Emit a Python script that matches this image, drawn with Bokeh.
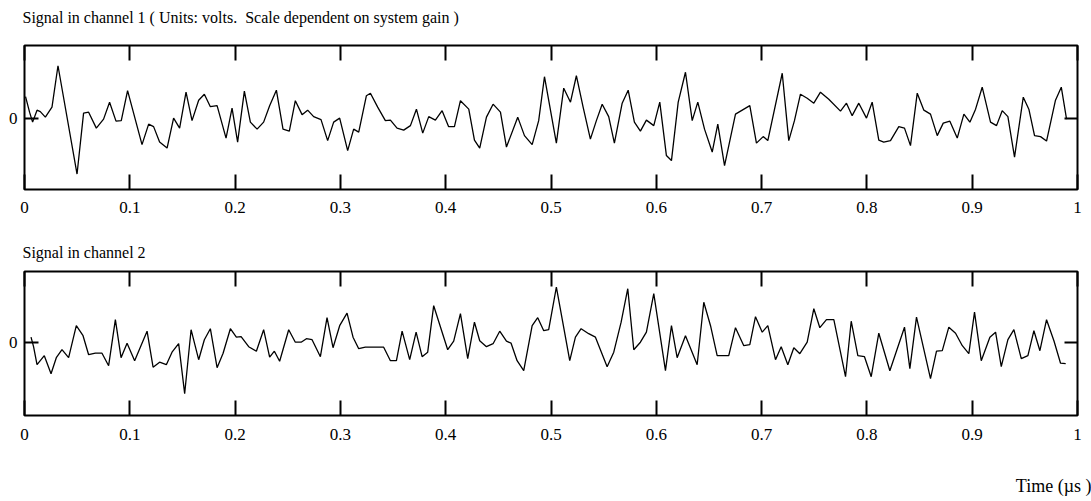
from bokeh.plotting import figure
from bokeh.models import LinearAxis, FixedTicker, Range1d, Title
from bokeh.layouts import column
from bokeh.embed import file_html
from bokeh.resources import INLINE

FONT = "Liberation Serif"

# time axis ticks (µs)
tick_values = [0, 0.1, 0.2, 0.3, 0.4, 0.5, 0.6, 0.7, 0.8, 0.9, 1]
tick_labels = ["0", "0.1", "0.2", "0.3", "0.4", "0.5", "0.6", "0.7", "0.8", "0.9", "1"]

# channel 1 samples: time (µs) and signal (V)
t1 = [0.0010, 0.0048, 0.0077, 0.0119, 0.0150, 0.0198, 0.0261, 0.0318, 0.0499, 0.0561,
      0.0609, 0.0682, 0.0751, 0.0808, 0.0869, 0.0919, 0.0979, 0.1116, 0.1179, 0.1226,
      0.1283, 0.1354, 0.1416, 0.1473, 0.1534, 0.1591, 0.1654, 0.1708, 0.1765, 0.1829,
      0.1914, 0.1971, 0.2024, 0.2088, 0.2145, 0.2209, 0.2271, 0.2328, 0.2392, 0.2455,
      0.2515, 0.2572, 0.2636, 0.2689, 0.2746, 0.2816, 0.2879, 0.2936, 0.2993, 0.3069,
      0.3126, 0.3174, 0.3247, 0.3285, 0.3354, 0.3427, 0.3475, 0.3538, 0.3601, 0.3665,
      0.3722, 0.3782, 0.3839, 0.3902, 0.3966, 0.4028, 0.4083, 0.4140, 0.4219, 0.4273,
      0.4323, 0.4387, 0.4450, 0.4520, 0.4577, 0.4684, 0.4748, 0.4821, 0.4883, 0.4938,
      0.5051, 0.5121, 0.5185, 0.5241, 0.5305, 0.5374, 0.5431, 0.5486, 0.5548, 0.5602,
      0.5676, 0.5733, 0.5792, 0.5849, 0.5906, 0.5976, 0.6033, 0.6096, 0.6144, 0.6208,
      0.6277, 0.6341, 0.6394, 0.6458, 0.6531, 0.6584, 0.6648, 0.6752, 0.6888, 0.6951,
      0.7015, 0.7059, 0.7196, 0.7258, 0.7312, 0.7369, 0.7433, 0.7496, 0.7559, 0.7638,
      0.7749, 0.7806, 0.7860, 0.7923, 0.7996, 0.8050, 0.8113, 0.8160, 0.8224, 0.8303,
      0.8357, 0.8414, 0.8478, 0.8541, 0.8604, 0.8668, 0.8725, 0.8788, 0.8858, 0.8921,
      0.8978, 0.9032, 0.9095, 0.9174, 0.9231, 0.9285, 0.9339, 0.9402, 0.9485, 0.9538,
      0.9592, 0.9649, 0.9706, 0.9791, 0.9846, 0.9896]
v1 = [0.43, 0.12, -0.08, 0.16, 0.13, 0.02, 0.22, 1.05, -1.12, 0.10,
      0.12, -0.20, -0.02, 0.32, -0.06, -0.05, 0.55, -0.53, -0.12, -0.17,
      -0.48, -0.60, 0.00, -0.20, 0.52, -0.05, 0.36, 0.48, 0.23, 0.25,
      -0.40, 0.20, -0.48, 0.54, -0.08, -0.22, -0.08, 0.25, 0.56, -0.22,
      -0.26, 0.35, 0.07, 0.16, 0.03, -0.03, -0.45, -0.08, 0.00, -0.65,
      -0.22, -0.28, 0.45, 0.50, 0.22, -0.05, -0.04, -0.20, -0.24, -0.15,
      0.18, -0.30, 0.03, -0.04, 0.15, -0.17, -0.17, 0.35, 0.18, -0.44,
      -0.60, 0.02, 0.28, 0.12, -0.58, 0.02, -0.35, -0.53, -0.05, 0.83,
      -0.50, 0.60, 0.32, 0.85, 0.22, -0.42, -0.05, 0.28, 0.03, -0.50,
      0.30, 0.56, -0.08, -0.26, -0.04, -0.15, 0.32, -0.75, -0.85, 0.32,
      0.92, -0.05, 0.32, -0.22, -0.68, -0.12, -0.95, 0.08, 0.25, -0.50,
      -0.37, -0.45, 0.90, -0.45, -0.05, 0.48, 0.40, 0.30, 0.52, 0.38,
      0.14, 0.30, 0.05, 0.30, 0.00, 0.32, -0.44, -0.48, -0.45, -0.17,
      -0.20, -0.55, 0.50, 0.16, 0.08, -0.35, -0.10, -0.06, -0.40, 0.08,
      -0.08, 0.18, 0.62, -0.08, -0.15, 0.15, 0.03, -0.78, 0.42, 0.18,
      -0.35, -0.37, -0.46, 0.36, 0.62, -0.02]

# channel 2 samples: time (µs) and signal (V)
t2 = [0.0062, 0.0086, 0.0119, 0.0188, 0.0252, 0.0302, 0.0356, 0.0419, 0.0492, 0.0556,
      0.0609, 0.0673, 0.0736, 0.0799, 0.0863, 0.0917, 0.0974, 0.1046, 0.1164, 0.1221,
      0.1283, 0.1347, 0.1401, 0.1464, 0.1521, 0.1582, 0.1654, 0.1708, 0.1765, 0.1829,
      0.1886, 0.1955, 0.2012, 0.2057, 0.2129, 0.2202, 0.2271, 0.2328, 0.2373, 0.2423,
      0.2509, 0.2572, 0.2627, 0.2677, 0.2731, 0.2810, 0.2873, 0.2930, 0.2993, 0.3063,
      0.3120, 0.3174, 0.3237, 0.3411, 0.3475, 0.3532, 0.3586, 0.3658, 0.3719, 0.3776,
      0.3829, 0.3886, 0.4019, 0.4076, 0.4140, 0.4209, 0.4273, 0.4323, 0.4387, 0.4450,
      0.4513, 0.4577, 0.4621, 0.4678, 0.4741, 0.4821, 0.4874, 0.4931, 0.4978, 0.5051,
      0.5178, 0.5232, 0.5286, 0.5358, 0.5422, 0.5533, 0.5596, 0.5666, 0.5729, 0.5786,
      0.5849, 0.5906, 0.5976, 0.6087, 0.6144, 0.6198, 0.6277, 0.6388, 0.6451, 0.6515,
      0.6578, 0.6688, 0.6752, 0.6831, 0.6888, 0.6942, 0.7006, 0.7059, 0.7132, 0.7186,
      0.7249, 0.7306, 0.7363, 0.7433, 0.7496, 0.7553, 0.7616, 0.7686, 0.7797, 0.7851,
      0.7914, 0.7977, 0.8041, 0.8113, 0.8218, 0.8357, 0.8408, 0.8471, 0.8604, 0.8661,
      0.8716, 0.8778, 0.8842, 0.8906, 0.8968, 0.9022, 0.9086, 0.9168, 0.9222, 0.9276,
      0.9339, 0.9396, 0.9466, 0.9529, 0.9586, 0.9643, 0.9706, 0.9776, 0.9839, 0.9888]
v2 = [0.10, -0.09, -0.45, -0.27, -0.63, -0.31, -0.15, -0.31, 0.33, 0.13,
      -0.25, -0.22, -0.22, -0.47, 0.45, -0.31, -0.02, -0.37, 0.22, -0.50,
      -0.40, -0.45, -0.20, -0.03, -1.03, 0.25, -0.35, 0.05, 0.27, -0.51,
      -0.22, 0.27, 0.10, 0.11, -0.09, -0.18, 0.25, -0.30, -0.18, -0.38,
      0.25, 0.00, 0.00, 0.07, 0.05, -0.29, 0.49, -0.11, 0.33, 0.58,
      0.10, -0.13, -0.10, -0.10, -0.37, -0.37, 0.22, -0.35, 0.20, -0.29,
      -0.20, 0.73, -0.15, 0.02, 0.57, -0.33, 0.40, 0.03, -0.09, -0.03,
      0.22, 0.02, -0.02, -0.37, -0.57, 0.33, 0.49, 0.23, 0.25, 1.10,
      -0.37, 0.10, 0.27, 0.17, 0.10, -0.49, -0.20, 0.40, 1.07, -0.15,
      0.00, 0.20, 0.97, -0.57, 0.33, -0.31, 0.13, -0.45, 0.80, 0.33,
      -0.27, -0.27, 0.29, -0.07, -0.05, 0.51, 0.20, 0.33, -0.35, -0.09,
      -0.45, -0.11, -0.23, 0.00, 0.67, 0.29, 0.45, 0.45, -0.69, 0.42,
      -0.27, -0.29, -0.69, 0.18, -0.57, 0.30, -0.53, 0.50, -0.73, -0.18,
      -0.17, 0.30, 0.18, -0.07, -0.23, 0.60, -0.37, 0.10, 0.20, -0.49,
      0.05, 0.25, -0.33, -0.27, 0.23, -0.17, 0.45, 0.03, -0.42, -0.43]


def style_axis(axis, ticks, tick_len, show_labels, standoff):
    axis.ticker = FixedTicker(ticks=ticks)
    axis.axis_line_color = None
    axis.major_tick_in = tick_len
    axis.major_tick_out = 0
    axis.major_tick_line_width = 2
    axis.major_tick_line_color = "black"
    axis.minor_tick_line_color = None
    axis.major_label_standoff = standoff
    axis.major_label_text_font = FONT
    if show_labels:
        axis.major_label_text_color = "black"
        axis.major_label_text_font_size = "17px"
    else:
        # tick marks only, labels not painted
        axis.major_label_text_color = None
        axis.major_label_text_font_size = "1px"


def gap_axis(size):
    # invisible axis whose outward tick length reserves blank space
    axis = LinearAxis()
    style_axis(axis, [0.5], 0, False, 0)
    axis.major_tick_out = size
    axis.major_tick_line_color = None
    return axis


def make_title(text, size, align, offset):
    return Title(text=text, align=align, offset=offset, standoff=0,
                 text_font=FONT, text_font_size=size, text_font_style="normal",
                 text_color="black")


def make_panel(t, v, y_lo, y_hi, height, top, bottom, title, title_gap, label_standoff):
    p = figure(width=1091, height=height,
               x_range=Range1d(0, 1), y_range=Range1d(y_lo, y_hi),
               output_backend="svg", toolbar_location=None,
               x_axis_location=None, y_axis_location=None,
               min_border_left=24, min_border_right=14,
               min_border_top=top, min_border_bottom=bottom)
    p.grid.visible = False
    p.outline_line_color = "black"
    p.outline_line_width = 2
    p.background_fill_color = "white"
    p.border_fill_color = "white"

    below = LinearAxis()
    style_axis(below, tick_values, 15, True, label_standoff)
    below.major_label_overrides = dict(zip(tick_values, tick_labels))
    p.add_layout(below, "below")

    above = LinearAxis()
    style_axis(above, tick_values, 15, False, 0)
    p.add_layout(above, "above")
    p.add_layout(gap_axis(title_gap), "above")

    left = LinearAxis()
    style_axis(left, [0], 14, True, 7)
    left.major_label_overrides = {0: "0"}
    p.add_layout(left, "left")

    right = LinearAxis()
    style_axis(right, [0], 13, False, 0)
    p.add_layout(right, "right")

    p.line(t, v, line_color="black", line_width=1.3)

    p.add_layout(make_title(title, "16px", "left", -2), "above")
    return p


p1 = make_panel(t1, v1, -1.43, 1.456, 232, 45, 43,
                "Signal in channel 1 ( Units: volts.\u00a0 Scale dependent on system gain )",
                20, 12)
p2 = make_panel(t2, v2, -1.466, 1.414, 269, 39, 86, "Signal in channel 2", 11, 13)

p2.add_layout(gap_axis(31), "below")
p2.add_layout(make_title("Time (\u00b5s )", "18px", "right", -14), "below")

layout = column(p1, p2, spacing=0)
open("out.html", "w").write(file_html(layout, INLINE))
